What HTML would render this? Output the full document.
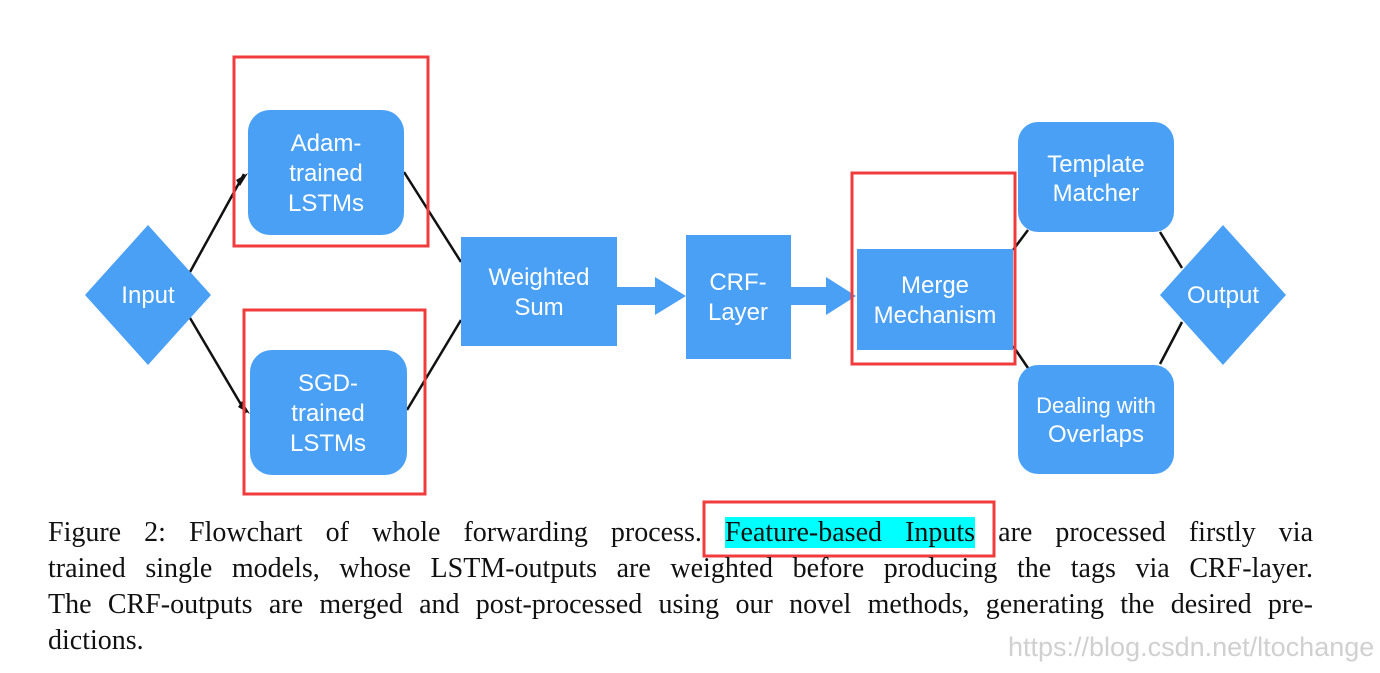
<!DOCTYPE html>
<html><head><meta charset="utf-8"><style>
body{margin:0;width:1380px;height:673px;background:#fff;position:relative;overflow:hidden}
svg{position:absolute;left:0;top:0}
.cap{position:absolute;left:48px;width:1265px;font-family:"Liberation Serif",serif;font-size:28px;color:#111;line-height:36px}
.ln{text-align:justify;text-align-last:justify;white-space:nowrap;height:36px}
.hl{background:#00ffff}
.wm{position:absolute;left:1008px;top:632px;font-family:"Liberation Sans",sans-serif;font-size:27px;color:#d0d0d0}
</style></head><body>
<svg width="1380" height="673" font-family="Liberation Sans, sans-serif" font-size="24" fill="#fff">
<g stroke="#111" stroke-width="2.5" fill="none">
<line x1="190" y1="272" x2="244" y2="174"/>
<line x1="190" y1="318" x2="246" y2="413"/>
<line x1="404" y1="172" x2="461" y2="262"/>
<line x1="407" y1="410" x2="461" y2="320"/>
<line x1="1013" y1="250" x2="1028" y2="230"/>
<line x1="1013" y1="346" x2="1028" y2="368"/>
<line x1="1160" y1="232" x2="1182" y2="268"/>
<line x1="1160" y1="364" x2="1182" y2="322"/>
</g>
<polygon points="248,173 236,180 240,186" fill="#111"/>
<polygon points="250,414 238,407 242,401" fill="#111"/>
<g fill="#4aa0f5">
<polygon points="148,225 211,295 148,365 85,295"/>
<polygon points="1223,225 1286,295 1223,365 1160,295"/>
<rect x="248" y="110" width="156" height="125" rx="22"/>
<rect x="250" y="350" width="157" height="125" rx="22"/>
<rect x="461" y="237" width="156" height="109"/>
<rect x="686" y="235" width="105" height="124"/>
<rect x="857" y="249" width="156" height="101"/>
<rect x="1018" y="122" width="156" height="110" rx="20"/>
<rect x="1018" y="365" width="156" height="109" rx="20"/>
<polygon points="617,287 655,287 655,277 686,296 655,315 655,305 617,305"/>
<polygon points="791,287 826,287 826,277 856,296 826,315 826,305 791,305"/>
</g>
<g text-anchor="middle">
<text x="148" y="303">Input</text>
<text x="1223" y="303">Output</text>
<text x="326" y="151">Adam-</text><text x="326" y="181">trained</text><text x="326" y="211">LSTMs</text>
<text x="328" y="391">SGD-</text><text x="328" y="421">trained</text><text x="328" y="451">LSTMs</text>
<text x="539" y="285">Weighted</text><text x="539" y="315">Sum</text>
<text x="738" y="290">CRF-</text><text x="738" y="320">Layer</text>
<text x="935" y="293">Merge</text><text x="935" y="323">Mechanism</text>
<text x="1096" y="172">Template</text><text x="1096" y="201">Matcher</text>
<text x="1096" y="413" font-size="22">Dealing with</text><text x="1096" y="442">Overlaps</text>
</g>
<g fill="none" stroke="#f03c3c" stroke-width="3">
<rect x="234" y="57" width="194" height="189"/>
<rect x="244" y="310" width="181" height="184"/>
<rect x="852" y="173" width="163" height="191"/>
<rect x="704" y="502" width="290" height="54"/>
</g>
</svg>
<div class="cap" style="top:515px">
<div class="ln">Figure 2: Flowchart of whole forwarding process. <span class="hl">Feature-based Inputs</span> are processed firstly via</div>
<div class="ln">trained single models, whose LSTM-outputs are weighted before producing the tags via CRF-layer.</div>
<div class="ln">The CRF-outputs are merged and post-processed using our novel methods, generating the desired pre-</div>
<div style="height:36px">dictions.</div>
</div>
<div class="wm">https://blog.csdn.net/ltochange</div>
</body></html>
